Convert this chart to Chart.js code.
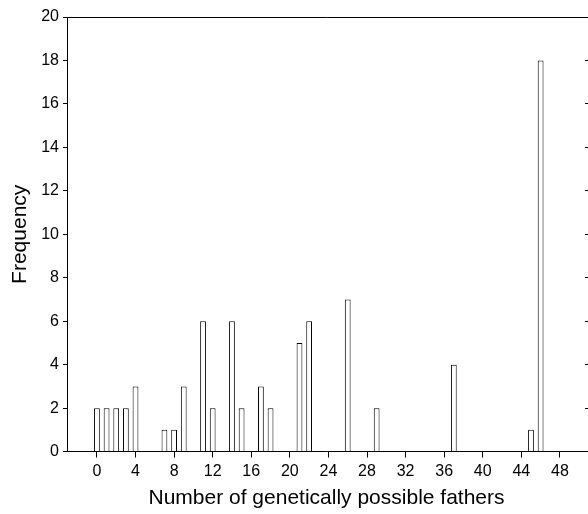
<!DOCTYPE html>
<html lang="en">
<head>
<meta charset="utf-8">
<title>Number of genetically possible fathers</title>
<script src="https://cdn.jsdelivr.net/npm/chart.js"></script>
<style>
    html, body { margin: 0; padding: 0; background: #fff; }
    #wrap { width: 588px; height: 514px; }
</style>
</head>
<body>
<div id="wrap"><canvas id="fathersChart"></canvas></div>
<script>
    // Dados
    const fathers = [0, 1, 2, 3, 4, 7, 8, 9, 11, 12, 14, 15, 17, 18, 21, 22, 26, 29, 37, 45, 46];
    const frequency = [2, 2, 2, 2, 3, 1, 1, 3, 6, 2, 6, 2, 3, 2, 5, 6, 7, 2, 4, 1, 18];
    const xTicks = [0, 4, 8, 12, 16, 20, 24, 28, 32, 36, 40, 44, 48];
    const yTicks = [0, 2, 4, 6, 8, 10, 12, 14, 16, 18, 20];

    const points = fathers.map((f, i) => ({ x: f, y: frequency[i] }));
    const tickFont = { family: "'Liberation Sans', Arial, sans-serif", size: 16 };
    const titleFont = { family: "'Liberation Sans', Arial, sans-serif", size: 21 };
    const fixTicks = list => axis => { axis.ticks = list.map(v => ({ value: v })); };

    new Chart(document.getElementById('fathersChart'), {
        type: 'bar',
        data: {
            datasets: [{
                data: points,
                backgroundColor: '#ffffff',
                borderColor: '#000000',
                borderWidth: 1,
                barPercentage: 0.6,
                categoryPercentage: 1
            }]
        },
        options: {
            responsive: true,
            maintainAspectRatio: false,
            animation: false,
            layout: { padding: { top: 9, right: 0, left: 4, bottom: 3 } },
            plugins: { legend: { display: false }, tooltip: { enabled: false } },
            scales: {
                x: {
                    type: 'linear',
                    min: -3,
                    max: 50.6,
                    offset: false,
                    afterBuildTicks: fixTicks(xTicks),
                    grid: { offset: false, drawOnChartArea: false, drawTicks: true, tickLength: 6, color: '#000' },
                    border: { display: true, color: '#000', width: 1 },
                    ticks: { color: '#000', font: tickFont, padding: 4, maxRotation: 0 },
                    title: { display: true, text: 'Number of genetically possible fathers', color: '#000', font: titleFont, padding: { top: 1, bottom: 0 } }
                },
                x2: {
                    type: 'linear',
                    position: 'top',
                    min: -3,
                    max: 50.6,
                    grid: { display: false },
                    border: { display: true, color: '#000', width: 1 },
                    ticks: { display: false }
                },
                y: {
                    min: 0,
                    max: 20,
                    afterBuildTicks: fixTicks(yTicks),
                    grid: { drawOnChartArea: false, drawTicks: true, tickLength: 5, color: '#000' },
                    border: { display: true, color: '#000', width: 1 },
                    ticks: { color: '#000', font: tickFont, padding: 4 },
                    title: { display: true, text: 'Frequency', color: '#000', font: titleFont, padding: { top: 4, bottom: 4 } }
                },
                y2: {
                    position: 'right',
                    min: 0,
                    max: 20,
                    afterBuildTicks: fixTicks(yTicks),
                    grid: { drawOnChartArea: false, drawTicks: true, tickLength: 3, color: '#000' },
                    border: { display: false },
                    ticks: { display: false }
                }
            }
        }
    });
</script>
</body>
</html>
